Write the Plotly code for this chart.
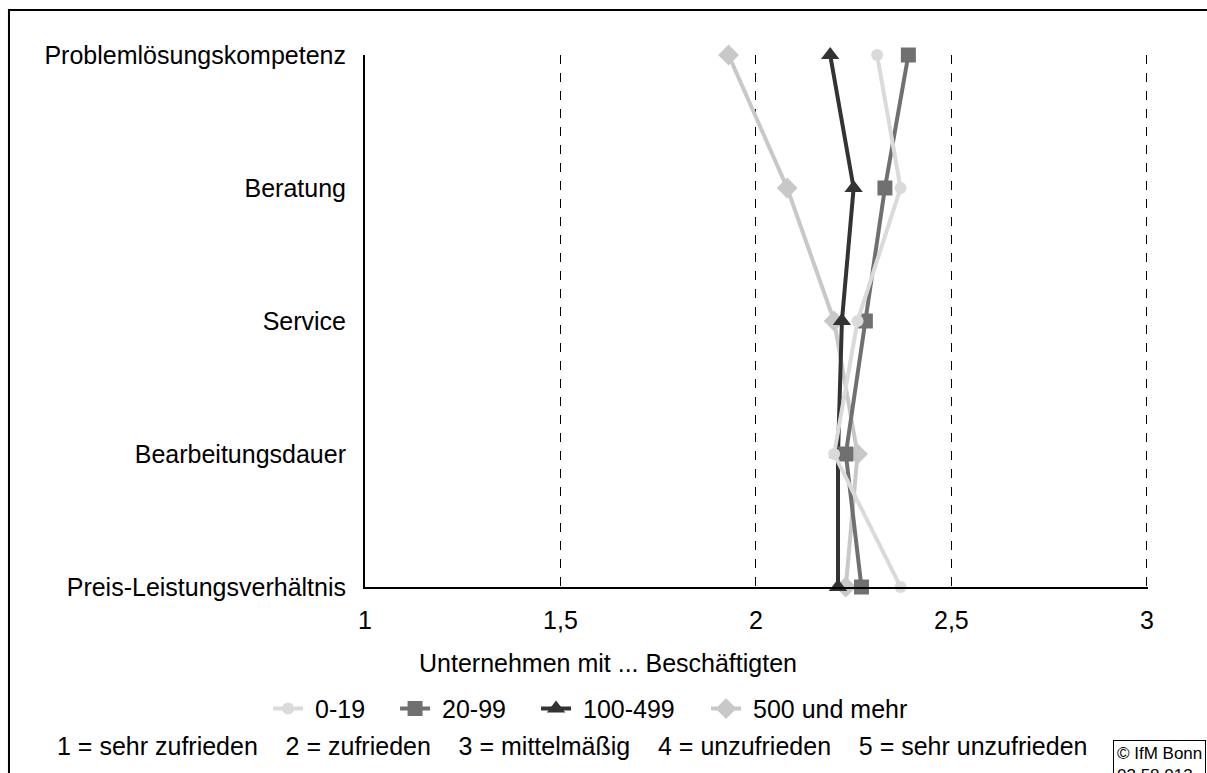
import plotly.graph_objects as go

# Categories, bottom to top as on the axis
categories = [
    "Preis-Leistungsverhältnis",
    "Bearbeitungsdauer",
    "Service",
    "Beratung",
    "Problemlösungskompetenz",
]

# Mean satisfaction per size class (same order as categories)
vals_0_19 = [2.37, 2.20, 2.26, 2.37, 2.31]
vals_20_99 = [2.27, 2.23, 2.28, 2.33, 2.39]
vals_100_499 = [2.21, 2.21, 2.22, 2.25, 2.19]
vals_500 = [2.23, 2.26, 2.20, 2.08, 1.93]

x_ticks = [1, 1.5, 2, 2.5, 3]

FONT = "Liberation Sans, Arial, sans-serif"
FS = 25
NB = "\u00a0"

series = [
    # drawn back to front (Excel puts the first series on top here)
    ("500 und mehr", vals_500, "#c8c8c8", "diamond", 16, 210),
    ("100-499", vals_100_499, "#333333", "triangle-up", 16, 125),
    ("20-99", vals_20_99, "#707070", "square", 15, 96),
    ("0-19", vals_0_19, "#dadada", "circle", 12, 82),
]

fig = go.Figure()

for name, vals, color, symbol, size, lw in series:
    fig.add_trace(
        go.Scatter(
            x=vals,
            y=categories,
            mode="lines+markers",
            name=NB + name,
            line=dict(color=color, width=4),
            marker=dict(color=color, symbol=symbol, size=size),
            cliponaxis=False,
            legendwidth=lw,
        )
    )

gap = NB * 3 + " "
footnote = gap.join(
    [
        "1 = sehr zufrieden",
        "2 = zufrieden",
        "3 = mittelmäßig",
        "4 = unzufrieden",
        "5 = sehr unzufrieden",
    ]
)

fig.update_layout(
    width=1207,
    height=773,
    margin=dict(l=365, r=59, t=55, b=186),
    paper_bgcolor="white",
    plot_bgcolor="white",
    separators=",.",
    font=dict(family=FONT, size=FS, color="black"),
    legend=dict(
        orientation="h",
        x=-0.1238,
        xanchor="left",
        y=-0.229,
        yanchor="middle",
        traceorder="reversed",
        font=dict(size=FS),
        bgcolor="rgba(0,0,0,0)",
    ),
    xaxis=dict(
        range=[1, 3.003],
        tickvals=x_ticks,
        showgrid=True,
        gridcolor="black",
        gridwidth=1,
        griddash="dash",
        showline=True,
        linecolor="black",
        linewidth=2,
        zeroline=False,
        ticks="",
        ticklabelstandoff=10,
        tickfont=dict(size=FS),
    ),
    yaxis=dict(
        categoryorder="array",
        categoryarray=categories,
        range=[0, 4],
        showgrid=False,
        showline=True,
        linecolor="black",
        linewidth=2,
        zeroline=False,
        ticks="",
        ticklabelstandoff=12,
        tickfont=dict(size=FS),
    ),
    shapes=[
        dict(
            type="rect",
            xref="paper",
            yref="paper",
            x0=-0.4547,
            x1=1.2,
            y0=-0.5,
            y1=1.0846,
            line=dict(color="black", width=2),
            fillcolor="rgba(0,0,0,0)",
            layer="below",
        )
    ],
    annotations=[
        dict(
            text="Unternehmen mit ... Beschäftigten",
            xref="paper",
            yref="paper",
            x=0.3103,
            y=-0.1429,
            xanchor="center",
            yanchor="middle",
            showarrow=False,
            font=dict(size=FS),
        ),
        dict(
            text=footnote,
            xref="paper",
            yref="paper",
            x=0.2643,
            y=-0.299,
            xanchor="center",
            yanchor="middle",
            showarrow=False,
            font=dict(size=FS),
        ),
        dict(
            text="© IfM Bonn<br>03 58 013",
            xref="paper",
            yref="paper",
            x=0.9553,
            y=-0.2876,
            xanchor="left",
            yanchor="top",
            align="left",
            showarrow=False,
            bordercolor="black",
            borderwidth=1,
            borderpad=3,
            font=dict(size=17),
        ),
    ],
)

fig.write_html(
    "out.html",
    config={"displayModeBar": False},
    post_script="document.body.style.margin='0';",
)
